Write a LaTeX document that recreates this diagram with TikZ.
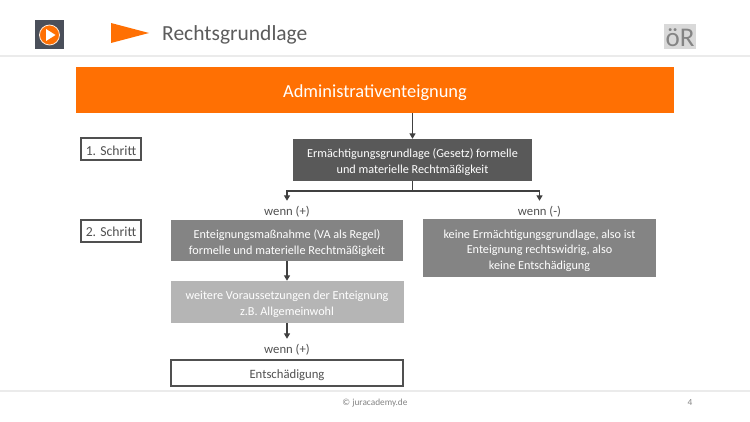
\documentclass[tikz,border=0pt]{standalone}
\usepackage{fontspec}
\setmainfont{Carlito}
\usetikzlibrary{arrows.meta}
\definecolor{juraorange}{HTML}{FF7003}
\definecolor{juraslate}{HTML}{4A4F5A}
\definecolor{jurarule}{HTML}{EBEBEB}
\definecolor{juradark}{HTML}{595959}
\definecolor{juramid}{HTML}{848484}
\definecolor{juralight}{HTML}{B5B5B5}
\definecolor{juratext}{HTML}{505050}
\definecolor{juraline}{HTML}{404040}
\newcommand{\ersteZeile}{\rule{0pt}{13.5pt}}
\tikzset{
  tiefer/.style={execute at begin node={\rule{0pt}{#1}}},
  stepbox/.style={draw=juratext,line width=2pt,fill=white,text=juratext,inner sep=0pt,tiefer=12pt,font=\fontsize{13.7}{14}\selectfont},
  fillbox/.style={inner sep=0pt,text=white,align=center,font=\fontsize{12.2}{15.7}\selectfont},
  wenn/.style={inner sep=0pt,minimum height=20pt,text=juratext,tiefer=11.5pt,font=\fontsize{12.7}{14}\selectfont},
  pfeil/.style={draw=juraline,line width=1.7pt,-{Triangle[length=5.5pt,width=6pt]}},
  headrule/.style={draw=jurarule,line width=1.5pt}
}
\begin{document}
\begin{tikzpicture}[x=1pt,y=-1pt]
\useasboundingbox (0,0) rectangle (750,422);
\fill[white] (0,0) rectangle (750,422);
% head
\draw[headrule] (0,56) -- (750,56) (0,391) -- (750,391);
\fill[juraslate] (35,20) rectangle (64,49);
\draw[fill=juraorange,draw=white!85!juraorange,line width=.8pt] (49.5,35) circle (10);
\fill[white] (46,29) -- (55.5,35) -- (46,41) -- cycle;
\fill[juraorange] (111,23) -- (149,33) -- (111,43) -- cycle;
\node[anchor=west,inner sep=0pt,text=juramid!70!black,font=\fontsize{21.5}{24}\selectfont] (titel) at (162,35) {Rechtsgrundlage};
\node[fill=black!15,text=juramid,minimum width=32pt,minimum height=25pt,inner sep=0pt,tiefer=20pt,font=\fontsize{27}{27}\selectfont] (oer) at (680,36.5) {öR};
% boxes
\node[fill=juraorange,text=white,minimum width=598pt,minimum height=46pt,inner sep=0pt,tiefer=18pt,font=\fontsize{18.4}{20}\selectfont] (admin) at (375,90) {Administrativenteignung};
\node[stepbox,minimum width=60pt,minimum height=22pt] (schritta) at (111,149.5) {1. Schritt};
\node[stepbox,minimum width=60pt,minimum height=22pt] (schrittb) at (111,231) {2. Schritt};
\node[fillbox,fill=juradark,minimum width=239pt,minimum height=42pt] (erm) at (412.5,160) {\ersteZeile Ermächtigungsgrundlage (Gesetz) formelle\\und materielle Rechtmäßigkeit};
\node[wenn] (wenna) at (287,211) {wenn (+)};
\node[wenn] (wennb) at (539.5,211) {wenn (-)};
\node[fillbox,fill=juramid,minimum width=232pt,minimum height=41pt] (massn) at (287,240.5) {\ersteZeile Enteignungsmaßnahme (VA als Regel)\\formelle und materielle Rechtmäßigkeit};
\node[fillbox,fill=juramid,minimum width=233pt,minimum height=58pt] (keine) at (539.5,248) {\ersteZeile keine Ermächtigungsgrundlage, also ist\\Enteignung rechtswidrig, also\\keine Entschädigung};
\node[fillbox,fill=juralight,minimum width=233pt,minimum height=42pt] (weitere) at (287,302) {\ersteZeile weitere Voraussetzungen der Enteignung\\z.B. Allgemeinwohl};
\node[wenn] (wennc) at (287,349) {wenn (+)};
\node[stepbox,minimum width=232pt,minimum height=26pt,tiefer=13.5pt,font=\fontsize{12.7}{14}\selectfont] (entsch) at (287,372.5) {Entschädigung};
% connectors
\coordinate (split) at (412.5,191);
\draw[pfeil] (erm.north |- admin.south) -- (erm.north);
\draw[pfeil] (erm.south) -- (split) -| (wenna.north);
\draw[pfeil] (split) -| (wennb.north);
\draw[pfeil] (massn.south) -- (weitere.north);
\draw[pfeil] (weitere.south) -- (wennc.north);
% foot
\node[inner sep=0pt,text=juramid,font=\fontsize{9.3}{11}\selectfont] (copy) at (375,403) {© juracademy.de};
\node[inner sep=0pt,text=juramid,font=\fontsize{9.3}{11}\selectfont] (seite) at (690,403) {4};
\end{tikzpicture}
\end{document}
